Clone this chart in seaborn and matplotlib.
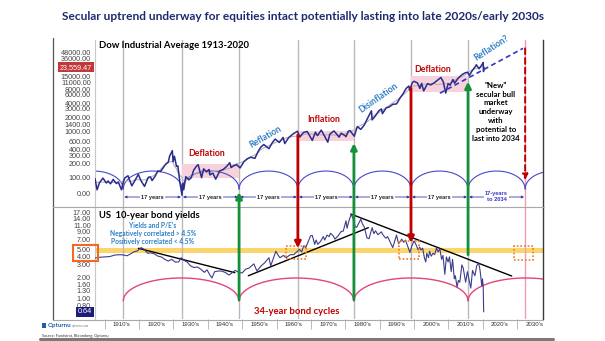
import numpy as np
import pandas as pd
import matplotlib
matplotlib.use("Agg")
import matplotlib.pyplot as plt
import matplotlib.transforms as mtransforms
from matplotlib.patches import Rectangle, ConnectionPatch
from matplotlib.lines import Line2D
from matplotlib.ticker import NullLocator, FixedLocator, FixedFormatter
import seaborn as sns

sns.set_theme(style="white")
plt.rcParams['font.family'] = ['Lato', 'DejaVu Sans']

# ---------------- data ----------------
dow_years = [1907.2, 1907.8, 1908.5, 1909.5, 1910.5, 1911.0, 1911.7, 1912.5, 1913.4, 1914.0,
             1914.9, 1915.5, 1915.9, 1916.8, 1917.9, 1918.7, 1919.8, 1920.5, 1921.6, 1922.7,
             1923.3, 1923.8, 1924.6, 1925.5, 1926.2, 1926.9, 1927.8, 1928.5, 1928.9, 1929.7,
             1929.9, 1930.3, 1930.9, 1931.3, 1931.9, 1932.5, 1932.7, 1933.0, 1933.6, 1934.5,
             1935.2, 1935.9, 1936.8, 1937.2, 1937.9, 1938.2, 1938.8, 1939.6, 1940.4, 1940.6,
             1941.5, 1942.3, 1943.5, 1944.5, 1945.5, 1946.4, 1946.8, 1947.5, 1948.4, 1949.4,
             1950.5, 1951.5, 1952.5, 1953.7, 1954.8, 1955.5, 1956.3, 1957.8, 1958.8, 1959.6,
             1960.8, 1961.9, 1962.4, 1963.5, 1964.8, 1966.1, 1966.8, 1967.8, 1968.9, 1970.4,
             1971.3, 1971.9, 1973.0, 1973.9, 1974.9, 1975.5, 1976.7, 1978.2, 1978.8, 1979.9,
             1980.2, 1980.9, 1981.4, 1982.6, 1983.5, 1984.5, 1985.5, 1986.5, 1987.6, 1987.8,
             1988.8, 1989.8, 1990.5, 1990.8, 1991.9, 1992.8, 1993.8, 1994.9, 1995.9, 1996.9,
             1997.7, 1998.5, 1998.7, 1999.5, 2000.0, 2001.0, 2001.7, 2002.2, 2002.8, 2003.9,
             2004.8, 2005.9, 2006.8, 2007.8, 2008.5, 2008.9, 2009.2, 2009.9, 2010.5, 2011.3,
             2011.8, 2012.8, 2013.8, 2014.9, 2015.6, 2016.1, 2016.9, 2017.9, 2018.1, 2018.9,
             2019.8, 2020.1, 2020.2, 2020.3]
dow_values = [96, 55, 78, 98, 77, 85, 74, 92, 75, 80,
              55, 85, 99, 110, 67, 84, 118, 88, 65, 102,
              104, 87, 105, 140, 135, 158, 198, 215, 290, 381,
              220, 290, 175, 180, 78, 42, 75, 55, 105, 90,
              100, 145, 180, 190, 120, 100, 155, 135, 150, 115,
              125, 93, 140, 150, 175, 210, 165, 180, 190, 162,
              220, 255, 275, 260, 385, 460, 515, 420, 570, 675,
              570, 730, 540, 720, 870, 995, 745, 930, 985, 630,
              950, 800, 1050, 800, 578, 860, 1010, 742, 900, 800,
              760, 1000, 1020, 776, 1250, 1090, 1340, 1900, 2720, 1740,
              2150, 2750, 2990, 2370, 3170, 3300, 3750, 3830, 5100, 6500,
              8250, 9300, 7540, 11000, 11720, 10800, 8240, 10600, 7290, 10450,
              9800, 10900, 12300, 14160, 11400, 8200, 6550, 10400, 9700, 12800,
              10650, 13600, 16000, 17900, 18300, 15700, 19800, 24800, 26600, 21800,
              27000, 29550, 19000, 23559.47]

bond_years = [1907.2, 1908.5, 1910.0, 1911.5, 1913.0, 1914.5, 1915.5, 1916.5, 1917.5, 1918.5,
              1919.5, 1920.6, 1921.5, 1922.5, 1923.5, 1924.5, 1925.5, 1926.5, 1927.5, 1928.5,
              1929.5, 1930.5, 1931.5, 1932.3, 1933.0, 1934.0, 1935.0, 1936.0, 1937.0, 1938.0,
              1939.0, 1939.8, 1940.5, 1941.2, 1942.0, 1943.0, 1944.0, 1945.0, 1946.2, 1947.0,
              1948.0, 1949.0, 1950.0, 1951.0, 1952.0, 1953.4, 1954.3, 1955.5, 1956.5, 1957.8,
              1958.3, 1959.8, 1960.5, 1961.0, 1962.0, 1962.8, 1964.0, 1965.0, 1966.7, 1967.3,
              1967.9, 1968.5, 1969.9, 1970.4, 1971.1, 1971.5, 1972.0, 1972.8, 1973.6, 1974.0,
              1974.7, 1975.3, 1975.7, 1976.5, 1977.0, 1977.9, 1978.8, 1979.4, 1980.2, 1980.5,
              1981.0, 1981.7, 1982.2, 1982.9, 1983.3, 1984.5, 1985.0, 1985.5, 1986.3, 1986.9,
              1987.8, 1988.3, 1988.8, 1989.5, 1990.5, 1991.0, 1991.8, 1992.3, 1993.8, 1994.9,
              1995.5, 1996.4, 1997.0, 1997.5, 1998.8, 1999.3, 2000.0, 2000.6, 2001.2, 2001.6,
              2002.0, 2002.5, 2003.0, 2003.4, 2003.7, 2004.2, 2004.5, 2005.0, 2005.5, 2006.0,
              2006.5, 2007.0, 2007.5, 2008.0, 2008.4, 2008.95, 2009.4, 2009.9, 2010.3, 2010.8,
              2011.2, 2011.7, 2012.0, 2012.5, 2012.9, 2013.3, 2013.9, 2014.3, 2015.0, 2015.5,
              2016.5, 2017.0, 2017.7, 2018.2, 2018.8, 2019.2, 2019.7, 2019.9, 2020.1, 2020.25]
bond_values = [3.75, 3.85, 3.9, 3.95, 4.15, 4.2, 4.15, 4.05, 4.3, 4.6,
               4.75, 5.3, 5.0, 4.4, 4.45, 4.3, 4.0, 3.9, 3.6, 3.4,
               3.6, 3.3, 3.3, 3.8, 3.5, 3.3, 2.9, 2.75, 2.8, 2.6,
               2.35, 2.55, 2.2, 1.95, 2.4, 2.45, 2.45, 2.35, 2.15, 2.3,
               2.5, 2.35, 2.3, 2.6, 2.7, 3.1, 2.45, 2.9, 3.2, 3.8,
               2.9, 4.7, 4.1, 3.8, 4.1, 3.8, 4.2, 4.2, 5.0, 4.6,
               5.6, 5.3, 7.8, 7.9, 5.9, 6.8, 5.9, 6.5, 7.6, 6.8,
               8.0, 7.6, 8.5, 7.8, 7.0, 7.8, 9.0, 9.1, 12.8, 10.0,
               12.5, 15.8, 14.0, 10.5, 10.3, 13.5, 11.5, 10.5, 7.3, 7.1,
               10.2, 8.4, 9.2, 8.1, 8.9, 8.0, 7.2, 7.6, 5.3, 8.0,
               6.0, 7.0, 6.3, 6.8, 4.5, 5.5, 6.6, 5.8, 4.9, 5.4,
               4.9, 5.2, 3.8, 3.3, 4.4, 3.8, 4.7, 4.0, 4.4, 4.2,
               5.2, 4.6, 5.1, 3.6, 4.1, 2.2, 3.9, 3.3, 3.9, 2.4,
               3.6, 1.9, 2.1, 1.45, 1.8, 1.7, 3.0, 2.7, 1.7, 2.4,
               1.4, 2.5, 2.1, 2.9, 3.2, 2.5, 1.5, 1.9, 1.5, 0.64]

cycle_years = [1915.4, 1932.5, 1949.1, 1966.2, 1982.5, 1999.1, 2015.7]
end_cycle_year = 2032.3
bond_cycle_years = [1915.4, 1949.1, 1982.5, 2015.7, 2049.3]

regime_names = ["Deflation", "Inflation", "Deflation"]
regime_start = [1932.5, 1966.2, 1999.1]
regime_end = [1949.1, 1982.5, 2015.7]
regime_low = [100, 600, 7000]
regime_high = [200, 1000, 15000]

dow_tick_values = [46, 100, 200, 300, 400, 600, 1000, 1400, 2000, 3000, 4000, 6000,
                   8000, 11000, 15000, 36000, 48000]
dow_tick_labels = ["0.00", "100.00", "200.00", "300.00", "400.00", "600.00", "1000.00",
                   "1400.00", "2000.00", "3000.00", "4000.00", "6000.00", "8000.00",
                   "11000.00", "15000.00", "36000.00", "48000.00"]
dow_last = 23559.47
bond_tick_values = [0.8, 1.0, 1.3, 1.6, 2.0, 3.0, 4.0, 5.0, 7.0, 9.0, 11.0, 14.0, 17.0]
bond_last = 0.64
decade_starts = [1910, 1920, 1930, 1940, 1950, 1960, 1970, 1980, 1990, 2000, 2010, 2020, 2030]
decade_labels = ["1910's", "1920's", "1930's", "1940's", "1950's", "1960's", "1970's",
                 "1980's", "1990's", "2000's", "2010's", "2020's", "2030's"]

reflation_trend_years = [2007.5, 2031.7]
reflation_trend_values = [6500, 59800]
bond_trend_years = [[1919.8, 1947.9], [1951.8, 1986.7], [1981.6, 2028.4]]
bond_trend_values = [[5.18, 2.32], [2.1, 10.2], [16.0, 2.08]]
dotted_box_years = [[1962.8, 1968.5], [1995.7, 2001.4], [2029.1, 2034.7]]
dotted_box_values = [[3.6, 5.58], [3.6, 6.6], [3.53, 5.63]]
band_values = [4.4, 5.3]

green_years = [1949.1, 1982.5, 2015.7]
green_from_bond = [0.95, 0.95, 4.2]
green_to_dow = [49, 550, 11500]
red_years = [1966.2, 1999.1]
red_from_dow = [830, 8400]
red_to_bond = [5.2, 6.2]
red_dashed_dow = [59800, 89]

top_arc_cusp, top_arc_peak = 57, 139
bond_arc_cusp, bond_arc_peak = 0.92, 1.95
years_label_level = 38.5

# ---------------- figure ----------------
W, H = 605, 341
fig = plt.figure(figsize=(W / 100, H / 100), dpi=100)
fig.patch.set_facecolor('white')


def fx(x):
    return x / W


def fy(y):
    return 1 - y / H


def ftxt(x, y, s, **kw):
    return fig.text(fx(x), fy(y), s, **kw)


ax_top = fig.add_axes([fx(95), fy(207), (543 - 95) / W, (207 - 40) / H])
ax_bot = fig.add_axes([fx(95), fy(319), (543 - 95) / W, (319 - 207) / H])

for ax in (ax_top, ax_bot):
    ax.set_yscale('log')
    ax.set_facecolor('none')
    ax.grid(False)
    for s in ('top', 'bottom'):
        ax.spines[s].set_visible(False)
    ax.spines['left'].set_color('#c8c8c8')
    ax.spines['left'].set_linewidth(0.8)
    ax.spines['right'].set_color('#3a3a3a')
    ax.spines['right'].set_linewidth(1.0)
    for c in cycle_years:
        ax.axvline(c, color='#b9b9b9', lw=1.0, zorder=1)
    ax.axvline(end_cycle_year, color='#f19bb0', lw=1.0, zorder=1)

GREEN = '#14903a'
RED = '#c00000'
BLUE_TXT = '#2e80c6'
NAVY = '#2b2b8e'

# ---- top panel ----
df_dow = pd.DataFrame({'year': dow_years, 'dow': dow_values})
df_dow['trend'] = 10 ** (np.log10(df_dow['dow']).rolling(9, center=True, min_periods=1).mean())

for n, x0, x1, lo, hi in zip(regime_names, regime_start, regime_end, regime_low, regime_high):
    ax_top.add_patch(Rectangle((x0, lo), x1 - x0, hi - lo, facecolor='#f8d2da',
                               edgecolor='none', zorder=1.5))

u = np.linspace(-1, 1, 181)
bounds = [cycle_years[0] - (cycle_years[1] - cycle_years[0])] + cycle_years + \
         [end_cycle_year, end_cycle_year + (end_cycle_year - cycle_years[-1])]
for a, b in zip(bounds[:-1], bounds[1:]):
    xs = (a + b) / 2 + (b - a) / 2 * u
    ys = 10 ** (np.log10(top_arc_cusp) + (np.log10(top_arc_peak) - np.log10(top_arc_cusp)) * np.sqrt(1 - u ** 2))
    ax_top.plot(xs, ys, color='#4848c8', lw=0.8, zorder=2)

sns.lineplot(data=df_dow, x='year', y='trend', ax=ax_top, color='#b5b5b5', lw=0.8, zorder=3)
sns.lineplot(data=df_dow, x='year', y='dow', ax=ax_top, color=NAVY, lw=1.1, zorder=4)
ax_top.plot(reflation_trend_years, reflation_trend_values, ls=(0, (3, 2)), color='#3434c8', lw=1.2, zorder=4)

ax_top.set_xlim(1907.2, 2037.5)
ax_top.set_ylim(23.5, 90200)
ax_top.set_xlabel('')
ax_top.set_ylabel('')
ax_top.set_xticks([])
ax_top.yaxis.set_major_locator(FixedLocator(dow_tick_values))
ax_top.yaxis.set_major_formatter(FixedFormatter(dow_tick_labels))
ax_top.yaxis.set_minor_locator(NullLocator())
ax_top.tick_params(axis='y', length=0, pad=3, labelsize=5.2, labelcolor='#444444',
                   labelfontfamily='Liberation Sans')

trans_top = mtransforms.blended_transform_factory(ax_top.transAxes, ax_top.transData)
ax_top.text(-0.007, dow_last, f"{dow_last:,.2f}", transform=trans_top, ha='right', va='center',
            fontsize=5.2, color='white', family='Liberation Sans',
            bbox=dict(boxstyle='square,pad=0.25', fc='#c23838', ec='none'), zorder=6)

# 17-year labels
seg = cycle_years + [end_cycle_year]
for a, b in zip(seg[:-1], seg[1:]):
    ax_top.annotate('', xy=(b - 0.3, years_label_level), xytext=(a + 0.3, years_label_level),
                    arrowprops=dict(arrowstyle='<|-|>', color='#3a3aa8', lw=0.6,
                                    mutation_scale=3.5, shrinkA=0, shrinkB=0), zorder=5)
    last = (b == end_cycle_year)
    ax_top.text((a + b) / 2, years_label_level * (1.03 if last else 1.0),
                "17-years\nto 2034" if last else "17 years",
                ha='center', va='center', fontsize=4.1, fontweight='bold',
                color='#3535c8' if last else '#222222', family='Liberation Sans',
                linespacing=1.1,
                bbox=dict(boxstyle='square,pad=0.15', fc='white', ec='none'), zorder=6)

# ---- bottom panel ----
ax_bot.axhspan(band_values[0], band_values[1], color='#fcd46c', zorder=0.5, lw=0)
for a, b in zip(bond_cycle_years[:-1], bond_cycle_years[1:]):
    xs = (a + b) / 2 + (b - a) / 2 * u
    ys = 10 ** (np.log10(bond_arc_cusp) + (np.log10(bond_arc_peak) - np.log10(bond_arc_cusp)) * np.sqrt(1 - u ** 2))
    ax_bot.plot(xs, ys, color='#e2457a', lw=1.0, zorder=2)

for xs, ys in zip(bond_trend_years, bond_trend_values):
    ax_bot.plot(xs, ys, color='black', lw=1.0, zorder=3)

df_bond = pd.DataFrame({'year': bond_years, 'yield': bond_values})
sns.lineplot(data=df_bond, x='year', y='yield', ax=ax_bot, color='#3c3c8c', lw=0.8, zorder=4)

for xs, ys in zip(dotted_box_years, dotted_box_values):
    ax_bot.add_patch(Rectangle((xs[0], ys[0]), xs[1] - xs[0], ys[1] - ys[0], fill=False,
                               ec='#f07a22', lw=1.2, ls=(0, (1, 1.2)), zorder=5))

ax_bot.set_xlim(1907.2, 2037.5)
ax_bot.set_ylim(0.506, 20.15)
ax_bot.set_xlabel('')
ax_bot.set_ylabel('')
ax_bot.yaxis.set_major_locator(FixedLocator(bond_tick_values))
ax_bot.yaxis.set_major_formatter(FixedFormatter([f"{v:.2f}" for v in bond_tick_values]))
ax_bot.yaxis.set_minor_locator(NullLocator())
ax_bot.tick_params(axis='y', length=0, pad=3, labelsize=5.2, labelcolor='#444444',
                   labelfontfamily='Liberation Sans')
ax_bot.xaxis.set_major_locator(FixedLocator(decade_starts))
ax_bot.xaxis.set_major_formatter(FixedFormatter([''] * len(decade_starts)))
ax_bot.xaxis.set_minor_locator(FixedLocator([d + 5 for d in decade_starts]))
ax_bot.xaxis.set_minor_formatter(FixedFormatter(decade_labels))
ax_bot.tick_params(axis='x', which='major', bottom=True, length=7, width=0.6, color='#b0b0b0',
                   direction='out')
ax_bot.tick_params(axis='x', which='minor', bottom=True, length=0, pad=2.2, labelsize=4.4,
                   labelcolor='#333333', labelfontfamily='Liberation Sans')

trans_bot = mtransforms.blended_transform_factory(ax_bot.transAxes, ax_bot.transData)
ax_bot.text(-0.007, bond_last, f"{bond_last:.2f}", transform=trans_bot, ha='right', va='center',
            fontsize=5.2, color='white', family='Liberation Sans',
            bbox=dict(boxstyle='square,pad=0.25', fc='#1c1c7c', ec='none'), zorder=6)

# ---- arrows across panels ----
for yr, b0, d1 in zip(green_years, green_from_bond, green_to_dow):
    fig.add_artist(ConnectionPatch(xyA=(yr, b0), coordsA=ax_bot.transData,
                                   xyB=(yr, d1), coordsB=ax_top.transData,
                                   arrowstyle='-|>', color=GREEN, lw=2.0, mutation_scale=9, zorder=5))
for yr, d0, b1 in zip(red_years, red_from_dow, red_to_bond):
    fig.add_artist(ConnectionPatch(xyA=(yr, d0), coordsA=ax_top.transData,
                                   xyB=(yr, b1), coordsB=ax_bot.transData,
                                   arrowstyle='-|>', color=RED, lw=2.0, mutation_scale=9, zorder=5))
ax_top.annotate('', xy=(end_cycle_year, red_dashed_dow[1]), xytext=(end_cycle_year, red_dashed_dow[0]),
                arrowprops=dict(arrowstyle='-|>', color=RED, lw=1.4, ls=(0, (3, 2)),
                                mutation_scale=8, shrinkA=0, shrinkB=0), zorder=6)

# ---- frame lines ----
fig.add_artist(Line2D([fx(53), fx(53)], [fy(38), fy(320)], color='#555555', lw=0.9))
fig.add_artist(Line2D([fx(53), fx(543)], [fy(207), fy(207)], color='#a8a8a8', lw=0.8))
fig.add_artist(Line2D([fx(53), fx(543)], [fy(319.5), fy(319.5)], color='#a8a8a8', lw=0.8))
fig.add_artist(Line2D([fx(40), fx(553)], [fy(338.5), fy(338.5)], color='#7a7a7a', lw=2.2))
fig.add_artist(Rectangle((fx(73), fy(261)), (98 - 73) / W, (261 - 245) / H, transform=fig.transFigure,
                         fill=False, ec='#f26a21', lw=1.5))

# ---- texts ----
ftxt(303, 16, "Secular uptrend underway for equities intact potentially lasting into late 2020s/early 2030s",
     ha='center', va='center', fontsize=8.6, fontweight='bold', color='#1f2a6e')
ftxt(99, 45, "Dow Industrial Average 1913-2020", ha='left', va='center', fontsize=6.8,
     fontweight='bold', color='black')
ftxt(206.7, 153.3, "Deflation", ha='center', va='center', fontsize=6.3, fontweight='bold', color=RED)
ftxt(324, 120, "Inflation", ha='center', va='center', fontsize=6.3, fontweight='bold', color=RED)
ftxt(433, 69, "Deflation", ha='center', va='center', fontsize=6.3, fontweight='bold', color=RED)
ftxt(265, 136.7, "Reflation", ha='center', va='center', fontsize=6.3, fontweight='bold',
     color=BLUE_TXT, rotation=30)
ftxt(378, 98, "Disinflation", ha='center', va='center', fontsize=6.3, fontweight='bold',
     color=BLUE_TXT, rotation=35)
ftxt(491.7, 48.3, "Reflation?", ha='center', va='center', fontsize=6.3, fontweight='bold',
     color=BLUE_TXT, rotation=33)
ftxt(496, 111.7, "\"New\"\nsecular bull\nmarket\nunderway\nwith\npotential to\nlast into 2034",
     ha='center', va='center', fontsize=5.6, fontweight='bold', color='black', linespacing=1.3)
ftxt(99, 215, "US  10-year bond yields", ha='left', va='center', fontsize=6.8,
     fontweight='bold', color='black')
ftxt(153, 225, "Yields and P/E's", ha='center', va='center', fontsize=4.8, fontweight='bold', color=BLUE_TXT)
ftxt(153, 233.3, "Negatively correlated > 4.5%", ha='center', va='center', fontsize=4.8,
     fontweight='bold', color=BLUE_TXT)
ftxt(153, 241.7, "Positively correlated < 4.5%", ha='center', va='center', fontsize=4.8,
     fontweight='bold', color=BLUE_TXT)
ftxt(296.7, 311.7, "34-year bond cycles", ha='center', va='center', fontsize=6.8, fontweight='bold', color=RED)

fig.add_artist(Rectangle((fx(42), fy(328)), 4 / W, 5 / H, transform=fig.transFigure,
                         fc='#1f5fa8', ec='none'))
ftxt(47.5, 325.5, "Opturnu", ha='left', va='center', fontsize=4.4, fontweight='bold', color='#1f5fa8')
ftxt(72, 325.5, "opturnu.com", ha='left', va='center', fontsize=2.2, color='#777777')
ftxt(42, 335.5, "Source: Fundstrat, Bloomberg, Opturnu", ha='left', va='center', fontsize=2.8,
     color='#333333')

fig.savefig('out.png', dpi=100, facecolor='white')
